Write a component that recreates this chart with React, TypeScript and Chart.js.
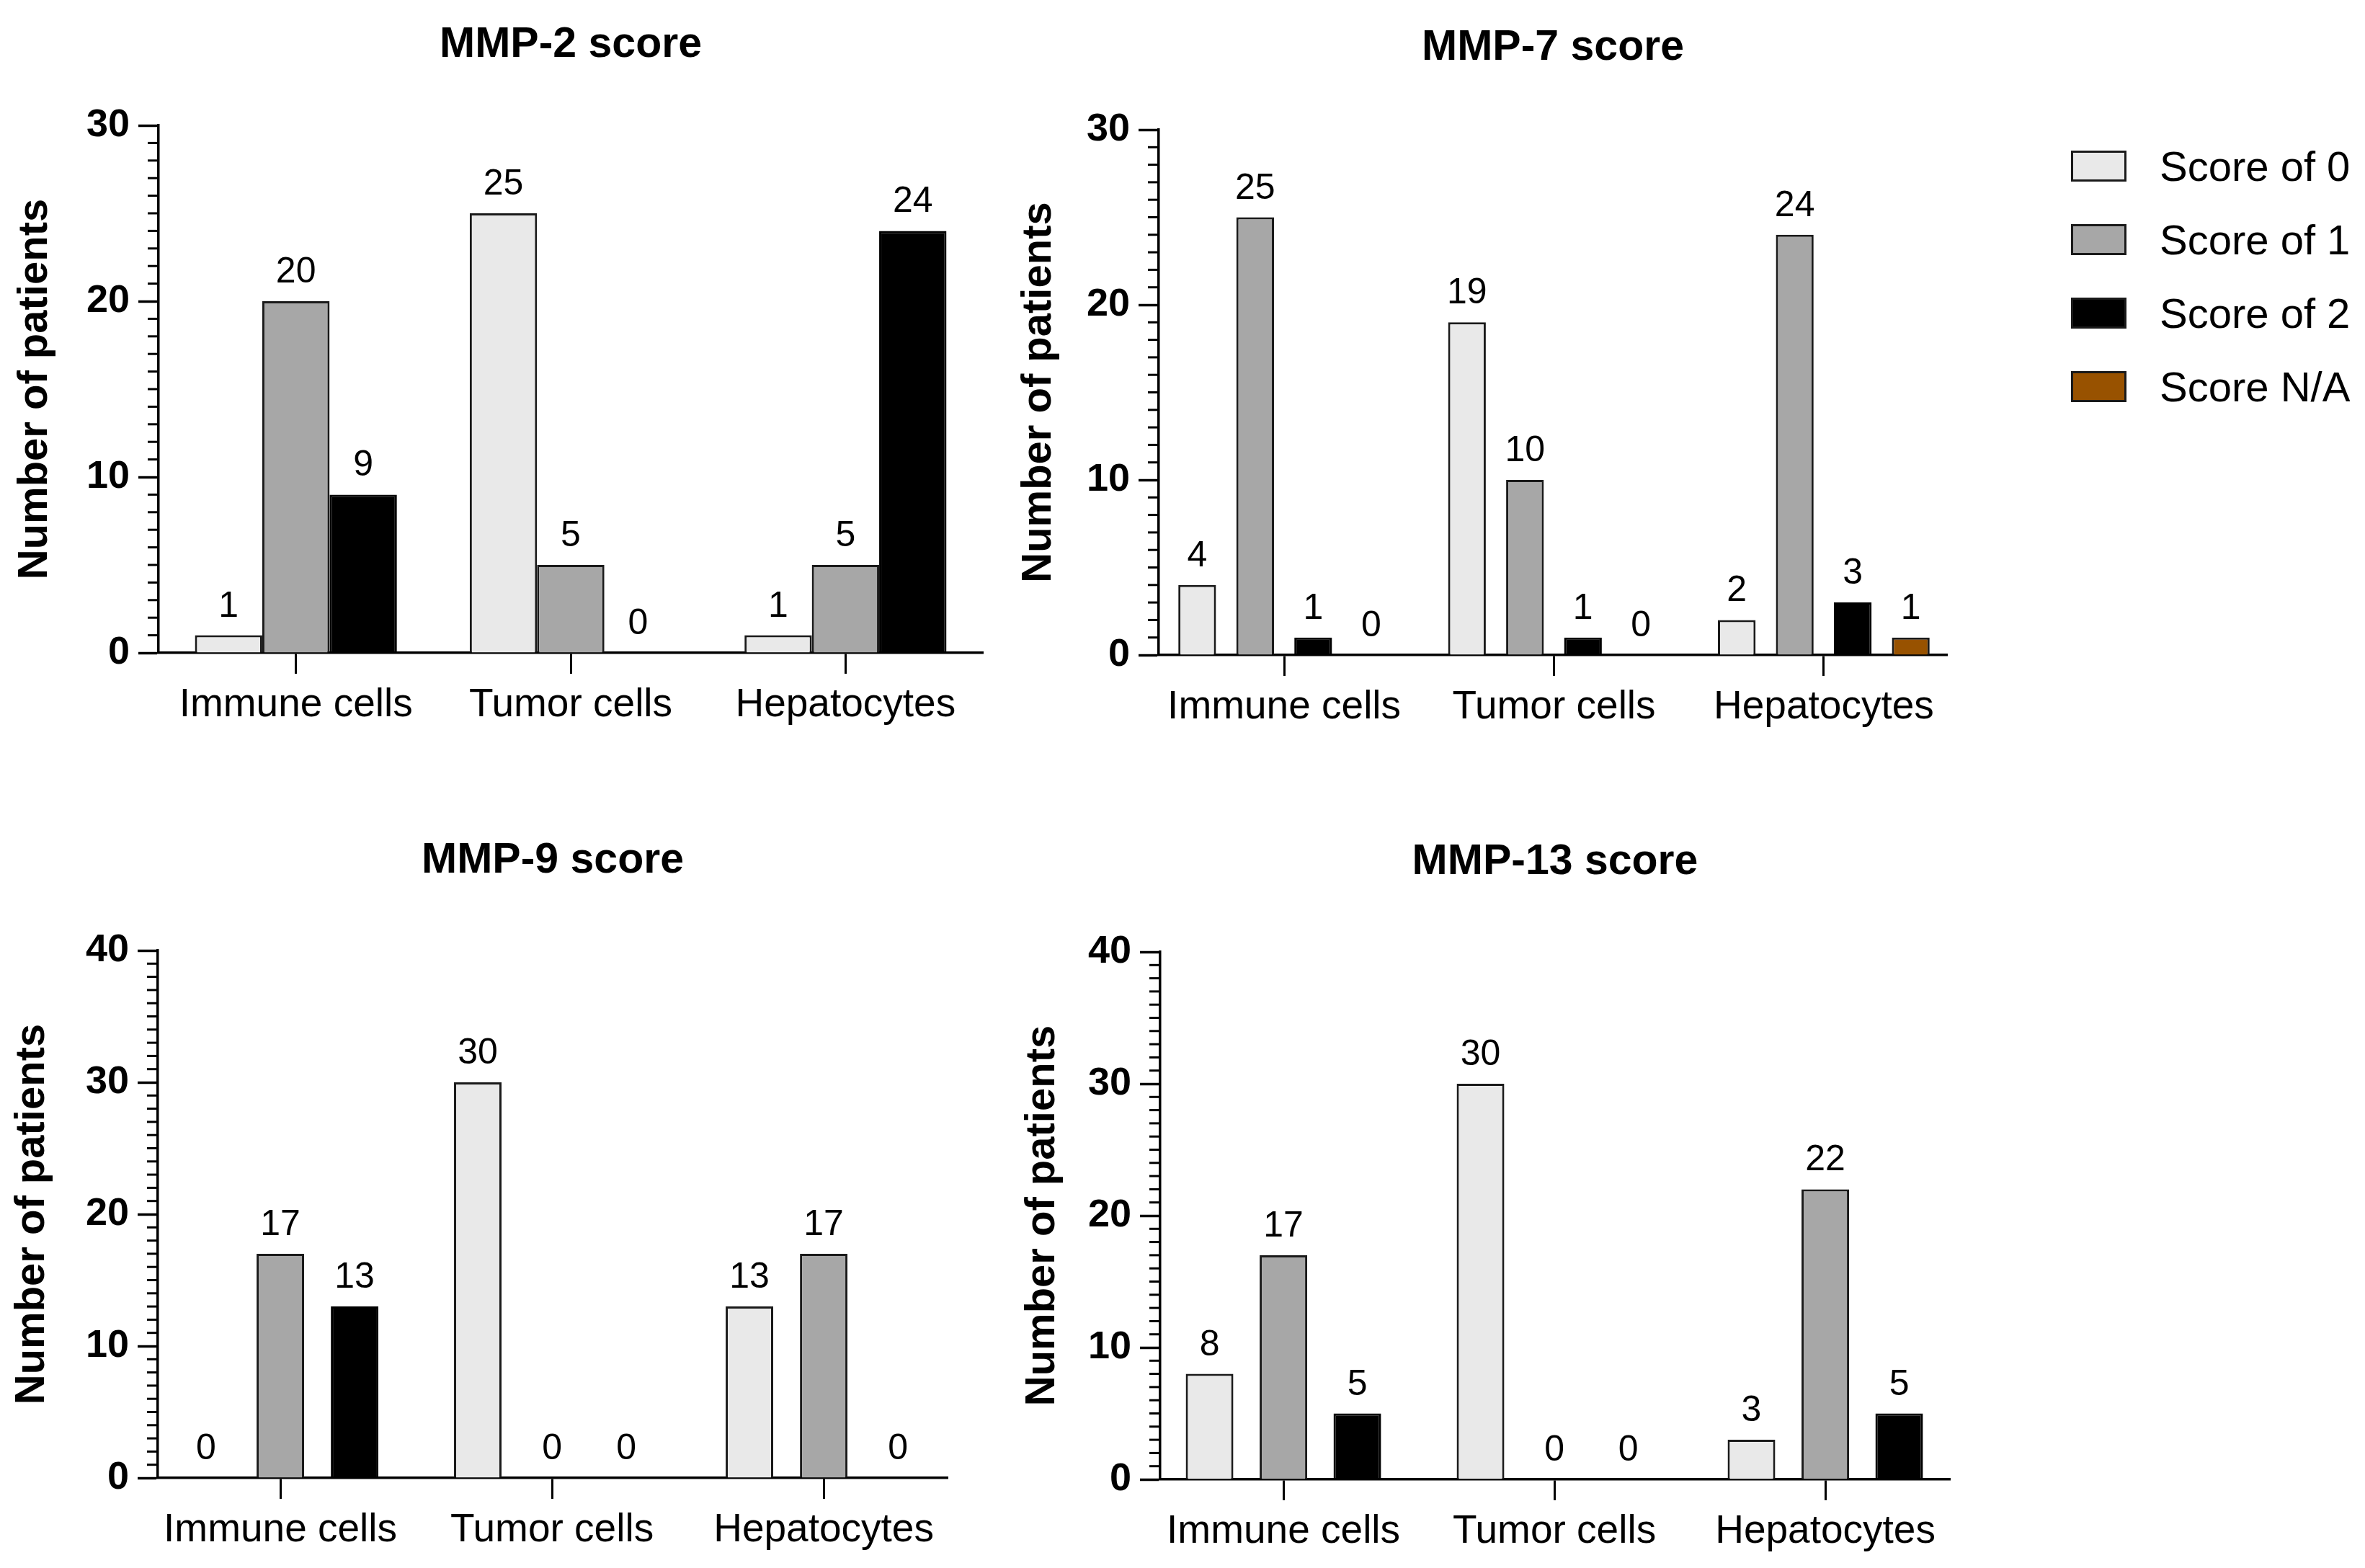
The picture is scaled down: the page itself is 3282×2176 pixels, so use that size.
import { useEffect, useRef } from "react"
import { Chart, registerables } from "chart.js"

Chart.register(...registerables)
Chart.defaults.font.family = "'Liberation Sans', Arial, sans-serif"
Chart.defaults.color = "#000"

const categories = ["Immune cells", "Tumor cells", "Hepatocytes"]
const seriesLabels = ["Score of 0", "Score of 1", "Score of 2", "Score N/A"]
const seriesColors = ["#e9e9e9", "#a7a7a7", "#000000", "#985200"]

// values per series, in category order
const mmp2Score0 = [1, 25, 1]
const mmp2Score1 = [20, 5, 5]
const mmp2Score2 = [9, 0, 24]

const mmp7Score0 = [4, 19, 2]
const mmp7Score1 = [25, 10, 24]
const mmp7Score2 = [1, 1, 3]
const mmp7ScoreNA = [0, 0, 1]

const mmp9Score0 = [0, 30, 13]
const mmp9Score1 = [17, 0, 17]
const mmp9Score2 = [13, 0, 0]

const mmp13Score0 = [8, 30, 3]
const mmp13Score1 = [17, 0, 22]
const mmp13Score2 = [5, 0, 5]

const yTicks30 = [0, 10, 20, 30]
const yTicks40 = [0, 10, 20, 30, 40]

type Box = {
  x0: number
  x1: number
  y0: number
  y1: number
  left: number
  right: number
  top: number
  bottom: number
  titleY: number
  axisTitleX: number
  xMin: number
  xMax: number
  catPct: number
  barPct: number
}

const TITLE_SIZE = 59
const AXIS_TITLE_SIZE = 58

const minorTicks = {
  id: "minorTicks",
  afterDraw(chart: Chart) {
    const y = chart.scales.y
    const { ctx, chartArea } = chart
    ctx.save()
    ctx.strokeStyle = "#000"
    ctx.lineWidth = 3
    for (let v = y.min; v <= y.max; v++) {
      if (v % 10 === 0) continue
      const py = y.getPixelForValue(v)
      ctx.beginPath()
      ctx.moveTo(chartArea.left - 15, py)
      ctx.lineTo(chartArea.left, py)
      ctx.stroke()
    }
    ctx.restore()
  },
}

const valueLabels = {
  id: "valueLabels",
  afterDatasetsDraw(chart: Chart) {
    const { ctx } = chart
    ctx.save()
    ctx.font = "50px 'Liberation Sans', Arial, sans-serif"
    ctx.fillStyle = "#000"
    ctx.textAlign = "center"
    ctx.textBaseline = "alphabetic"
    chart.data.datasets.forEach((ds, i) => {
      const meta = chart.getDatasetMeta(i)
      meta.data.forEach((bar, j) => {
        ctx.fillText(String(ds.data[j]), bar.x, bar.y - 26)
      })
    })
    ctx.restore()
  },
}

function Panel({ title, series, yTicks, box }: { title: string; series: number[][]; yTicks: number[]; box: Box }) {
  const canvasRef = useRef<HTMLCanvasElement>(null)
  const chartRef = useRef<Chart | null>(null)

  useEffect(() => {
    const canvas = canvasRef.current
    if (!canvas) return
    const ctx = canvas.getContext("2d")
    if (!ctx) return

    if (chartRef.current) {
      chartRef.current.destroy()
    }

    const titleLine = TITLE_SIZE * 1.2
    const axisTitleLine = AXIS_TITLE_SIZE * 1.2
    const padLeft = box.axisTitleX - box.x0 - axisTitleLine / 2
    const yWidth = box.left - box.x0 - padLeft
    const xHeight = box.y1 - box.bottom
    const titleTop = box.titleY - box.y0 - titleLine / 2
    const titleBottom = box.top - box.y0 - titleTop - titleLine

    chartRef.current = new Chart(ctx, {
      type: "bar",
      data: {
        labels: categories.map((_, i) => i),
        datasets: series.map((values, i) => ({
          label: seriesLabels[i],
          data: values,
          backgroundColor: seriesColors[i],
          borderColor: i === 2 ? "#000" : "#1a1a1a",
          borderWidth: 3,
          borderSkipped: "start",
          categoryPercentage: box.catPct,
          barPercentage: box.barPct,
        })),
      },
      options: {
        responsive: true,
        maintainAspectRatio: false,
        animation: false,
        layout: {
          padding: { left: padLeft, right: box.x1 - box.right, top: 0, bottom: 0 },
        },
        plugins: {
          legend: { display: false },
          tooltip: { enabled: false },
          title: {
            display: true,
            fullSize: false,
            text: title,
            color: "#000",
            font: { size: TITLE_SIZE, weight: "bold" },
            padding: { top: titleTop, bottom: titleBottom },
          },
        },
        scales: {
          x: {
            type: "linear",
            min: box.xMin,
            max: box.xMax,
            offset: false,
            afterBuildTicks: (s: any) => {
              s.ticks = categories.map((_, i) => ({ value: i }))
            },
            afterFit: (s: any) => {
              s.height = xHeight
            },
            grid: {
              display: true,
              drawOnChartArea: false,
              drawTicks: true,
              offset: false,
              tickLength: 29,
              tickWidth: 3,
              tickColor: "#000",
            },
            border: { display: true, color: "#000", width: 3.5 },
            ticks: {
              autoSkip: false,
              maxRotation: 0,
              padding: 11,
              color: "#000",
              font: { size: 55 },
              callback: (v: any) => categories[v],
            },
          },
          y: {
            type: "linear",
            min: 0,
            max: yTicks[yTicks.length - 1],
            afterBuildTicks: (s: any) => {
              s.ticks = yTicks.map((v) => ({ value: v }))
            },
            afterFit: (s: any) => {
              s.width = yWidth
            },
            grid: {
              display: true,
              drawOnChartArea: false,
              drawTicks: true,
              tickLength: 28,
              tickWidth: 3.5,
              tickColor: "#000",
            },
            border: { display: true, color: "#000", width: 3.5 },
            ticks: {
              padding: 12,
              color: "#000",
              font: { size: 54, weight: "bold" },
            },
            title: {
              display: true,
              text: "Number of patients",
              color: "#000",
              padding: 0,
              font: { size: AXIS_TITLE_SIZE, weight: "bold" },
            },
          },
        },
      },
      plugins: [minorTicks, valueLabels],
    })

    return () => {
      if (chartRef.current) {
        chartRef.current.destroy()
        chartRef.current = null
      }
    }
  }, [title, series, yTicks, box])

  return (
    <div
      style={{
        position: "absolute",
        left: box.x0,
        top: box.y0,
        width: box.x1 - box.x0,
        height: box.y1 - box.y0,
      }}
    >
      <canvas ref={canvasRef}></canvas>
    </div>
  )
}

const box2: Box = { x0: 0, x1: 1400, y0: 0, y1: 1080, left: 220, right: 1364, top: 174, bottom: 906, titleY: 63, axisTitleX: 49, xMin: -0.5, xMax: 2.5, catPct: 0.735, barPct: 1 }
const box7: Box = { x0: 1380, x1: 2800, y0: 0, y1: 1080, left: 1608, right: 2702, top: 180, bottom: 909, titleY: 67, axisTitleX: 1442, xMin: -0.465, xMax: 2.457, catPct: 0.86, barPct: 0.65 }
const box9: Box = { x0: 0, x1: 1400, y0: 1100, y1: 2176, left: 219, right: 1315, top: 1319, bottom: 2051, titleY: 1195, axisTitleX: 45, xMin: -0.451, xMax: 2.456, catPct: 0.82, barPct: 0.64 }
const box13: Box = { x0: 1380, x1: 2800, y0: 1100, y1: 2176, left: 1610, right: 2706, top: 1321, bottom: 2053, titleY: 1197, axisTitleX: 1447, xMin: -0.455, xMax: 2.46, catPct: 0.818, barPct: 0.644 }

const mmp2Series = [mmp2Score0, mmp2Score1, mmp2Score2]
const mmp7Series = [mmp7Score0, mmp7Score1, mmp7Score2, mmp7ScoreNA]
const mmp9Series = [mmp9Score0, mmp9Score1, mmp9Score2]
const mmp13Series = [mmp13Score0, mmp13Score1, mmp13Score2]

function Legend() {
  return (
    <div style={{ position: "absolute", left: 2874, top: 209 }}>
      {seriesLabels.map((label, i) => (
        <div
          key={label}
          style={{ position: "absolute", left: 0, top: i * 102, height: 43, display: "flex", alignItems: "center", whiteSpace: "nowrap" }}
        >
          <div
            style={{
              width: 77,
              height: 43,
              boxSizing: "border-box",
              border: "3px solid #1a1a1a",
              background: seriesColors[i],
            }}
          />
          <span
            style={{
              marginLeft: 46,
              fontFamily: "'Liberation Sans', Arial, sans-serif",
              fontSize: 58,
              lineHeight: "43px",
              color: "#000",
            }}
          >
            {label}
          </span>
        </div>
      ))}
    </div>
  )
}

export default function App() {
  useEffect(() => {
    document.body.style.margin = "0"
  }, [])

  return (
    <div
      style={{
        position: "fixed",
        left: 0,
        top: 0,
        width: 3282,
        height: 2176,
        overflow: "hidden",
        background: "#fff",
      }}
    >
      <Panel title="MMP-2 score" series={mmp2Series} yTicks={yTicks30} box={box2} />
      <Panel title="MMP-7 score" series={mmp7Series} yTicks={yTicks30} box={box7} />
      <Panel title="MMP-9 score" series={mmp9Series} yTicks={yTicks40} box={box9} />
      <Panel title="MMP-13 score" series={mmp13Series} yTicks={yTicks40} box={box13} />
      <Legend />
    </div>
  )
}
